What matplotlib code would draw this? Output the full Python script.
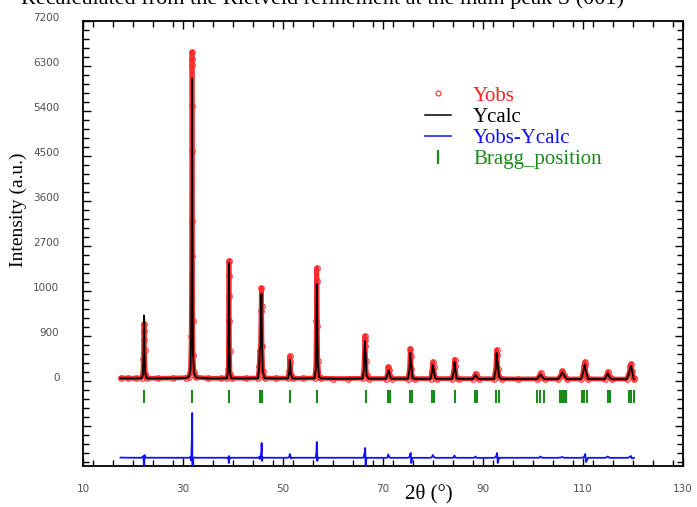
import matplotlib
matplotlib.use("Agg")
import matplotlib.pyplot as plt
from matplotlib.lines import Line2D
from matplotlib.ticker import MultipleLocator, FixedLocator, FixedFormatter
import matplotlib.transforms as mtransforms

two_theta = [
    17.5, 19.0, 20.5,
    21.7, 21.95, 22.08, 22.14, 22.2, 22.24, 22.3, 22.45, 22.8,
    25.0, 28.0, 30.5,
    31.2, 31.5, 31.64, 31.72, 31.76, 31.79, 31.8, 31.81, 31.84, 31.88, 31.93, 32.0, 32.2, 32.6,
    35.0, 37.5,
    38.8, 39.05, 39.12, 39.17, 39.2, 39.24, 39.3, 39.4, 39.7,
    42.5,
    45.0, 45.25, 45.35, 45.5, 45.62, 45.68, 45.73, 45.8, 45.95, 46.3,
    48.5,
    51.0, 51.25, 51.36, 51.45, 51.6, 51.9,
    54.0,
    56.3, 56.55, 56.68, 56.75, 56.8, 56.86, 56.95, 57.2, 57.6,
    60.0, 63.0,
    65.9, 66.15, 66.3, 66.38, 66.44, 66.52, 66.7, 67.1,
    70.6, 70.9, 71.05, 71.2, 71.4, 71.7,
    75.0, 75.3, 75.45, 75.55, 75.65, 75.9, 76.3,
    79.5, 79.8, 79.95, 80.1, 80.4, 80.8,
    83.8, 84.15, 84.3, 84.4, 84.7, 85.2,
    88.0, 88.35, 88.5, 88.7, 89.1,
    92.2, 92.55, 92.72, 92.82, 92.95, 93.2, 93.7,
    97.0,
    100.8, 101.2, 101.5, 101.8, 102.3,
    105.0, 105.5, 105.85, 106.2, 106.8,
    109.6, 109.95, 110.2, 110.35, 110.45, 110.6, 111.0,
    114.3, 114.7, 114.95, 115.3, 115.8,
    118.7, 119.2, 119.45, 119.6, 119.8, 120.1, 120.2,
]
y_obs = [
    60, 58, 55,
    60, 140, 450, 820, 1150, 1000, 620, 150, 58,
    55, 58, 65,
    90, 240, 900, 2500, 4600, 6330, 6580, 6450, 5500, 3200, 1200, 520, 180, 75,
    55, 55,
    60, 250, 1200, 2100, 2400, 1700, 600, 150, 58,
    55,
    60, 300, 600, 700, 1400, 1860, 1500, 700, 200, 60,
    55,
    58, 200, 500, 380, 120, 55,
    55,
    60, 250, 1200, 2260, 2000, 1100, 400, 90, 55,
    50, 50,
    55, 200, 700, 900, 820, 400, 120, 50,
    50, 150, 280, 230, 100, 50,
    50, 250, 640, 500, 250, 70, 48,
    48, 200, 380, 280, 70, 48,
    48, 200, 430, 300, 60, 46,
    46, 110, 150, 90, 45,
    46, 250, 620, 520, 250, 90, 45,
    42,
    44, 90, 160, 90, 42,
    42, 110, 200, 120, 40,
    42, 150, 300, 380, 320, 120, 45,
    40, 110, 180, 80, 38,
    40, 150, 300, 340, 200, 60, 40,
]
y_calc = [
    52, 52, 50,
    55, 110, 420, 900, 1310, 1260, 560, 140, 52,
    50, 52, 58,
    85, 220, 950, 2300, 4200, 5800, 6050, 5950, 4600, 3300, 1400, 540, 170, 70,
    50, 50,
    55, 240, 1250, 2200, 2360, 1680, 620, 145, 53,
    50,
    55, 280, 620, 680, 1300, 1740, 1200, 760, 190, 55,
    50,
    53, 180, 420, 330, 130, 50,
    50,
    55, 240, 1100, 1940, 1700, 1160, 390, 85, 50,
    46, 46,
    50, 190, 600, 800, 620, 550, 115, 46,
    46, 140, 210, 200, 95, 46,
    46, 230, 560, 400, 350, 66, 44,
    44, 180, 320, 250, 65, 44,
    44, 190, 380, 290, 55, 42,
    42, 100, 120, 85, 42,
    42, 230, 560, 420, 350, 85, 41,
    38,
    40, 85, 130, 85, 38,
    38, 100, 180, 115, 36,
    38, 140, 280, 330, 240, 200, 41,
    36, 100, 150, 75, 35,
    36, 140, 270, 300, 210, 60, 36,
]
bragg_position = [
    22.1, 31.8, 39.1, 45.3, 45.7, 51.3, 56.7, 66.5, 70.9, 71.3, 75.4, 75.7,
    79.7, 80.1, 84.4, 88.4, 88.7, 92.6, 93.1, 100.8, 101.3, 102.1,
    105.3, 105.7, 106.1, 106.5, 109.7, 110.2, 110.7, 114.9, 115.4,
    119.1, 119.6, 120.2,
]
y_ticks = [0, 900, 1800, 2700, 3600, 4500, 5400, 6300, 7200]
y_tick_labels = ["0", "900", "1000", "2700", "3600", "4500", "5400", "6300", "7200"]
x_ticks = [10, 30, 50, 70, 90, 110, 130]

diff_offset = -1540
bragg_top, bragg_bottom = -170, -430
y_diff = [o - c + diff_offset for o, c in zip(y_obs, y_calc)]

serif = ["Liberation Serif", "DejaVu Serif"]

fig = plt.figure(figsize=(6.97, 5.07), dpi=100)
ax = fig.add_axes([83 / 697, 41 / 507, 600 / 697, 445 / 507])

# observed data: red band plus open circles
ax.plot(two_theta, y_obs, color="#ff2a2a", lw=3.4, zorder=2, solid_joinstyle="round",
        solid_capstyle="round")
ax.plot(two_theta, y_obs, ls="none", marker="o", ms=4, mfc="none", mec="#ff3030",
        mew=0.8, zorder=3)
ax.plot(two_theta, y_calc, color="black", lw=1.3, zorder=4)
ax.plot(two_theta, y_diff, color="#1010ff", lw=1.3, zorder=4)
ax.vlines(bragg_position, bragg_bottom, bragg_top, color="#1a8c1a", lw=1.5, zorder=4)

ax.set_xlim(10, 130)
ax.set_ylim(-1700, 7200)
ax.yaxis.set_major_locator(FixedLocator([-1800, -900] + y_ticks))
ax.yaxis.set_major_formatter(FixedFormatter(["", ""] + y_tick_labels))
ax.yaxis.set_minor_locator(MultipleLocator(180))
ax.set_xticks(x_ticks)
ax.xaxis.set_minor_locator(MultipleLocator(4))

ax.tick_params(which="both", direction="in", top=True, right=True, width=1.0,
               colors="black", labelcolor="#505050", labelsize=7.5)
ax.tick_params(which="major", length=6)
ax.tick_params(which="minor", length=4)
ax.tick_params(axis="y", pad=17)
ax.tick_params(axis="x", pad=13)
for sp in ax.spines.values():
    sp.set_linewidth(1.3)

shift = mtransforms.ScaledTranslation(0, 3 / 72, fig.dpi_scale_trans)
for lab in ax.get_yticklabels():
    lab.set_transform(lab.get_transform() + shift)

handles = [
    Line2D([], [], ls="none", marker="o", ms=3.6, mfc="none", mec="#ff3030", mew=0.8),
    Line2D([], [], color="black", lw=1.1),
    Line2D([], [], color="#1010ff", lw=1.1),
    Line2D([], [], ls="none", marker="|", ms=10, mew=1.6, color="#1a8c1a"),
]
ax.legend(handles, ["Yobs", "Ycalc", "Yobs-Ycalc", "Bragg_position"],
          loc="upper left", bbox_to_anchor=(425 / 697, 1 - 86 / 507),
          bbox_transform=fig.transFigure, frameon=False, borderpad=0,
          borderaxespad=0, handlelength=1.25, handletextpad=1.05,
          labelspacing=0.08,
          labelcolor=["#ff2020", "black", "#1010ff", "#1a8c1a"],
          prop={"family": serif, "size": 15})

fig.text(18 / 697, 1 - 210 / 507, "Intensity (a.u.)", rotation=90, ha="center",
         va="center", family=serif, size=14)
fig.text(429 / 697, 1 - 484 / 507, "2\u03b8 (\u00b0)", ha="center", va="top",
         family=serif, size=15)
# caption of the source figure, cropped at the top edge like in the original
fig.text(0.03, 1 - 4 / 507, "Recalculated from the Rietveld refinement at the main peak S (001)",
         ha="left", va="baseline", family=serif, size=16)

fig.savefig("out.png", dpi=100)
